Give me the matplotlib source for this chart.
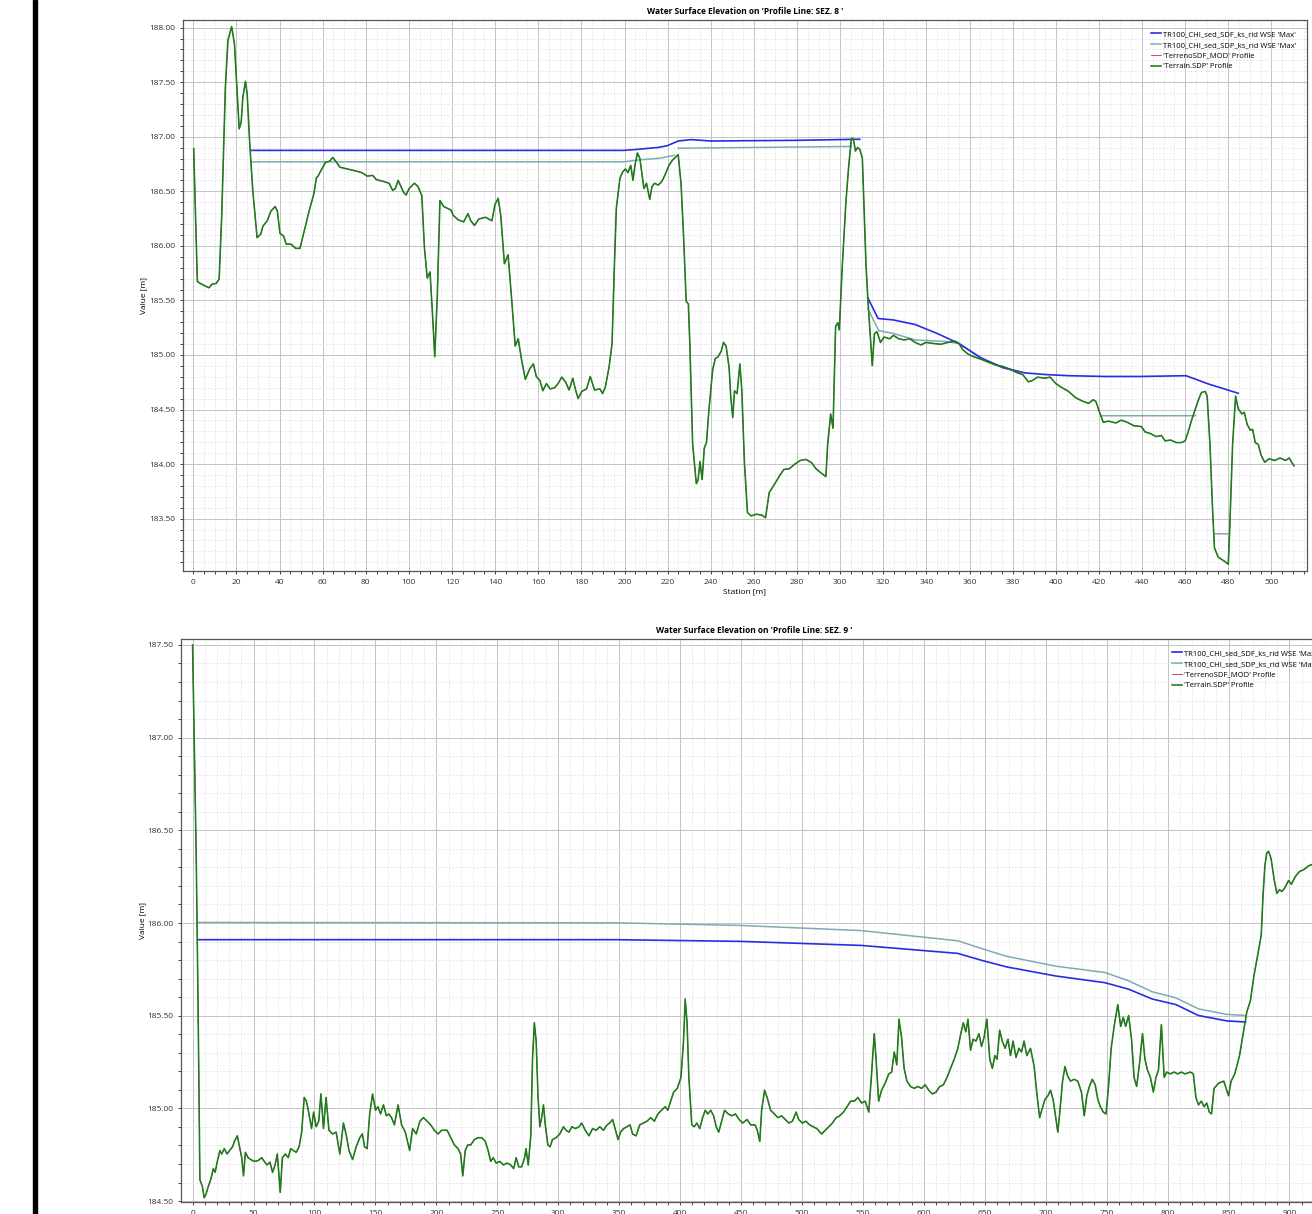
import numpy as np
import matplotlib
matplotlib.use('Agg')
import matplotlib.pyplot as plt
from matplotlib.patches import Rectangle
from matplotlib.ticker import MultipleLocator, FormatStrFormatter

nan = np.nan

# ---- SEZ. 8 ----
st_8 = [0.2, 1.9, 4.8, 7.3, 8.7, 10.7, 12.0, 13.2, 14.9, 16.1, 17.8, 19.1, 20.5, 21.3, 22.2, 23.0,
        24.2, 25.0, 26.2, 27.6, 29.6, 31.3, 32.3, 34.3, 36.0, 38.0, 39.0, 40.2, 41.9, 43.1, 45.3,
        47.5, 49.5, 51.2, 53.7, 55.9, 57.1, 57.9, 59.6, 61.3, 63.3, 64.7, 66.3, 68.0, 71.4, 74.8,
        78.1, 80.7, 83.2, 84.9, 88.3, 90.8, 92.5, 93.7, 95.0, 96.4, 97.5, 98.7, 100.1, 102.6, 104.3,
        106.0, 107.2, 108.5, 109.8, 110.9, 112.0, 113.2, 114.4, 116.1, 117.8, 119.5, 120.6, 122.8,
        125.4, 127.4, 128.7, 130.4, 132.4, 135.5, 138.5, 139.9, 141.4, 142.6, 144.3, 146.0, 147.6,
        149.3, 150.7, 152.3, 154.0, 156.1, 157.7, 159.1, 160.8, 162.1, 163.8, 165.5, 167.5, 169.2,
        170.9, 172.6, 174.3, 176.0, 177.3, 178.5, 180.2, 182.4, 184.1, 186.1, 188.6, 189.8, 191.1,
        192.8, 194.2, 195.3, 196.2, 197.9, 199.2, 200.4, 201.6, 202.9, 203.9, 204.9, 206.0, 207.1,
        208.0, 209.0, 210.2, 211.7, 212.7, 213.9, 215.6, 217.3, 218.9, 220.6, 222.3, 223.5, 224.9,
        226.2, 227.4, 228.6, 229.6, 230.3, 231.6, 233.3, 234.1, 235.0, 236.0, 237.0, 238.0, 239.2,
        240.9, 242.1, 243.4, 244.8, 245.9, 247.1, 248.5, 249.3, 250.2, 251.0, 252.2, 253.5, 254.4,
        255.6, 257.0, 258.7, 261.2, 263.8, 265.4, 267.1, 269.7, 272.2, 273.9, 276.4, 279.0, 281.5,
        284.0, 286.6, 288.8, 291.2, 293.4, 294.2, 295.6, 296.7, 297.9, 298.9, 299.6, 301.0, 302.7,
        304.0, 305.2, 306.1, 307.1, 308.1, 309.1, 310.3, 311.1, 312.0, 312.8, 313.7, 314.9, 315.9,
        317.1, 318.7, 320.4, 323.0, 324.7, 327.2, 329.7, 332.3, 334.8, 337.4, 339.9, 343.3, 346.7,
        350.0, 353.4, 355.1, 356.8, 359.4, 361.9, 365.3, 368.7, 372.1, 375.4, 378.8, 382.2, 384.7,
        387.3, 389.0, 391.5, 394.9, 397.4, 400.0, 402.5, 405.9, 409.3, 412.7, 415.2, 417.4, 418.6,
        420.3, 422.0, 424.5, 427.9, 430.4, 433.0, 436.3, 439.7, 441.4, 444.0, 446.5, 449.0, 450.7,
        453.3, 455.8, 458.3, 460.0, 461.4, 463.1, 464.8, 466.5, 467.6, 469.3, 470.2, 471.5, 472.7,
        473.6, 475.3, 477.0, 478.6, 480.0, 480.7, 482.0, 483.4, 484.6, 486.3, 487.4, 488.8, 490.2,
        491.3, 492.5, 493.9, 495.2, 496.9, 498.9, 501.5, 504.0, 506.6, 508.3, 509.4, 510.5]
terreno_8 = [186.89, 185.672, 185.639, 185.616, 185.649, 185.656, 185.695, 186.279, 187.459, 187.885,
             188.010, 187.852, 187.361, 187.072, 187.131, 187.361, 187.508, 187.393, 186.934, 186.508,
             186.075, 186.108, 186.180, 186.230, 186.318, 186.361, 186.318, 186.115, 186.089, 186.016,
             186.016, 185.977, 185.977, 186.115, 186.318, 186.475, 186.623, 186.639, 186.705, 186.764,
             186.777, 186.810, 186.770, 186.721, 186.705, 186.689, 186.672, 186.639, 186.646, 186.607,
             186.590, 186.574, 186.508, 186.525, 186.600, 186.541, 186.492, 186.466, 186.525, 186.574,
             186.541, 186.459, 185.984, 185.705, 185.761, 185.393, 184.984, 185.557, 186.416, 186.361,
             186.344, 186.328, 186.279, 186.239, 186.220, 186.295, 186.230, 186.187, 186.246, 186.262,
             186.230, 186.377, 186.436, 186.279, 185.836, 185.918, 185.525, 185.082, 185.148, 184.951,
             184.777, 184.875, 184.918, 184.803, 184.764, 184.672, 184.738, 184.689, 184.698, 184.738,
             184.797, 184.754, 184.679, 184.787, 184.679, 184.600, 184.666, 184.689, 184.803, 184.679,
             184.689, 184.646, 184.705, 184.885, 185.098, 185.820, 186.344, 186.623, 186.679, 186.705,
             186.672, 186.738, 186.600, 186.744, 186.852, 186.803, 186.672, 186.525, 186.574, 186.426,
             186.541, 186.574, 186.557, 186.590, 186.656, 186.738, 186.787, 186.810, 186.836, 186.574,
             186.082, 185.492, 185.466, 185.098, 184.180, 183.820, 183.852, 184.023, 183.859, 184.148,
             184.197, 184.508, 184.869, 184.967, 184.984, 185.033, 185.115, 185.082, 184.885, 184.607,
             184.426, 184.672, 184.646, 184.918, 184.672, 184.016, 183.557, 183.525, 183.541, 183.531,
             183.508, 183.738, 183.820, 183.902, 183.951, 183.957, 184.000, 184.033, 184.043, 184.016,
             183.957, 183.918, 183.885, 184.180, 184.459, 184.328, 185.262, 185.295, 185.230, 185.820,
             186.410, 186.738, 186.984, 186.984, 186.869, 186.902, 186.885, 186.803, 186.344, 185.820,
             185.525, 185.262, 184.902, 185.197, 185.213, 185.115, 185.164, 185.148, 185.180, 185.148,
             185.138, 185.148, 185.115, 185.092, 185.115, 185.105, 185.098, 185.115, 185.125, 185.105,
             185.049, 185.007, 184.984, 184.961, 184.934, 184.908, 184.895, 184.869, 184.836, 184.820,
             184.754, 184.764, 184.797, 184.787, 184.797, 184.738, 184.705, 184.666, 184.607, 184.574,
             184.557, 184.590, 184.574, 184.475, 184.384, 184.393, 184.377, 184.403, 184.384, 184.351,
             184.344, 184.295, 184.279, 184.252, 184.262, 184.213, 184.220, 184.197, 184.197, 184.213,
             184.295, 184.410, 184.508, 184.607, 184.656, 184.666, 184.623, 184.180, 183.590, 183.230,
             183.148, 183.125, 183.105, 183.082, 183.426, 184.180, 184.623, 184.508, 184.459, 184.475,
             184.361, 184.311, 184.318, 184.197, 184.180, 184.082, 184.016, 184.049, 184.033, 184.056,
             184.033, 184.056, 184.016, 183.984]

st_sdf_8 = [26.7, 199.6, 206.3, 215.6, 219.8, 224.9, 230.8, 240.0, 279.0, 309.1, nan,
            312.8, 317.6, 324.7, 334.8, 345.0, 355.1, 365.3, 375.4, 385.6, 395.7, 405.9, 422.8,
            439.7, 460.4, 470.2, 484.6]
wse_sdf_8 = [186.875, 186.875, 186.885, 186.902, 186.918, 186.961, 186.974, 186.961, 186.967, 186.977, nan,
             185.525, 185.334, 185.321, 185.279, 185.197, 185.105, 184.974, 184.885, 184.836, 184.820,
             184.810, 184.803, 184.803, 184.810, 184.738, 184.649]

st_sdp_8 = [26.7, 199.6, 206.3, 216.4, 223.1, nan, 224.9, 305.2, nan,
            312.8, 317.9, 324.7, 334.8, 341.6, 348.4, 355.1, 365.3, 375.4, 383.0, nan,
            421.2, 464.8, nan, 473.6, 480.4]
wse_sdp_8 = [186.770, 186.770, 186.787, 186.803, 186.830, nan, 186.895, 186.911, nan,
             185.426, 185.223, 185.197, 185.138, 185.131, 185.125, 185.105, 184.967, 184.882, 184.843, nan,
             184.443, 184.443, nan, 183.361, 183.361]

# ---- SEZ. 9 ----
st_9 = [0.0, 3.0, 4.5, 6.0, 8.1, 9.5, 11.0, 12.8, 14.9, 17.0, 18.5, 20.3, 22.4, 23.9, 26.0, 28.3,
        30.4, 32.8, 34.3, 36.7, 38.8, 40.3, 41.8, 43.3, 45.6, 47.7, 50.7, 53.7, 56.7, 58.8, 61.2,
        63.5, 65.6, 67.7, 69.5, 70.7, 71.9, 73.7, 76.1, 78.5, 80.5, 82.6, 85.0, 87.4, 89.5, 91.6,
        93.4, 95.5, 97.6, 99.3, 101.4, 103.5, 105.3, 107.4, 109.5, 111.9, 114.9, 117.8, 120.8,
        123.8, 126.2, 128.3, 131.3, 134.2, 137.2, 139.3, 141.1, 143.2, 145.3, 147.7, 150.1, 152.1,
        154.2, 156.6, 159.0, 161.1, 163.2, 165.6, 168.6, 171.5, 174.5, 178.1, 180.5, 183.5, 186.5,
        189.4, 192.4, 195.4, 198.4, 201.4, 204.4, 208.8, 211.8, 214.8, 217.8, 219.9, 221.7, 223.7,
        225.8, 228.2, 231.2, 234.2, 237.2, 240.2, 242.5, 244.6, 246.7, 249.1, 252.1, 255.1, 258.1,
        261.0, 263.4, 265.5, 267.6, 270.0, 272.4, 273.6, 275.4, 277.5, 278.9, 280.4, 281.9, 283.4,
        284.9, 286.4, 287.9, 289.4, 291.5, 293.3, 295.3, 298.3, 301.3, 304.3, 306.4, 308.8, 311.2,
        314.1, 317.1, 319.2, 322.2, 325.2, 328.2, 331.1, 334.1, 337.1, 340.1, 342.2, 344.6, 347.0,
        349.1, 351.2, 353.6, 356.5, 358.9, 361.0, 363.9, 366.9, 369.9, 372.9, 375.9, 378.9, 381.8,
        384.8, 387.8, 389.9, 392.3, 394.7, 397.7, 400.7, 402.8, 404.2, 405.7, 407.2, 409.6, 411.6,
        413.7, 416.1, 418.5, 420.6, 422.7, 425.1, 427.5, 429.6, 431.7, 434.1, 436.5, 439.5, 442.4,
        445.4, 448.4, 451.4, 454.9, 457.9, 461.5, 463.3, 465.4, 466.9, 469.3, 471.4, 474.3, 477.3,
        480.3, 483.3, 486.3, 489.3, 492.2, 495.2, 497.3, 500.3, 503.3, 506.2, 509.2, 512.2, 516.1,
        519.1, 522.0, 525.0, 528.0, 531.0, 534.0, 537.0, 539.9, 542.9, 545.9, 548.9, 551.9, 554.8,
        556.9, 559.3, 560.8, 562.9, 565.3, 568.3, 571.2, 573.6, 575.7, 577.8, 579.6, 581.7, 583.8,
        586.1, 589.1, 592.1, 595.1, 598.1, 601.1, 604.0, 607.0, 610.0, 613.0, 616.0, 619.0, 621.9,
        624.9, 627.9, 630.3, 632.4, 634.4, 636.2, 638.3, 640.4, 642.8, 645.2, 647.3, 649.4, 651.7,
        654.1, 656.2, 658.3, 660.1, 662.2, 664.3, 666.7, 669.0, 671.1, 673.2, 675.6, 678.0, 680.1,
        682.2, 684.5, 687.5, 690.5, 692.9, 695.0, 697.1, 699.4, 701.8, 703.9, 706.0, 707.8, 709.9,
        711.4, 713.8, 715.8, 717.9, 720.3, 723.3, 726.3, 729.3, 731.6, 733.7, 735.8, 738.2, 740.6,
        742.7, 744.8, 747.2, 749.5, 751.6, 753.7, 756.1, 759.1, 761.5, 763.6, 765.6, 768.0, 770.4,
        772.5, 774.6, 777.0, 779.4, 781.4, 783.5, 785.9, 788.3, 790.4, 792.5, 794.9, 797.2, 799.3,
        802.3, 805.3, 808.3, 811.3, 814.2, 818.7, 821.1, 823.2, 825.3, 827.6, 830.0, 832.1, 834.2,
        836.0, 838.1, 842.0, 846.1, 850.0, 852.1, 855.1, 859.0, 862.0, 865.0, 867.9, 870.9, 873.9,
        876.8, 878.3, 879.8, 881.3, 882.8, 884.9, 887.3, 889.6, 891.8, 893.8, 896.2, 899.2, 901.6,
        904.6, 908.2, 911.7, 915.6, 920.0]
terreno_9 = [187.500, 186.350, 185.560, 184.616, 184.577, 184.518, 184.537, 184.577, 184.616, 184.675,
             184.655, 184.714, 184.773, 184.754, 184.783, 184.754, 184.773, 184.793, 184.822, 184.852,
             184.783, 184.734, 184.636, 184.763, 184.734, 184.724, 184.714, 184.718, 184.734, 184.714,
             184.695, 184.710, 184.655, 184.695, 184.754, 184.655, 184.547, 184.734, 184.754, 184.734,
             184.783, 184.773, 184.763, 184.793, 184.872, 185.059, 185.039, 184.970, 184.891, 184.980,
             184.901, 184.931, 185.078, 184.891, 185.059, 184.882, 184.862, 184.872, 184.754, 184.921,
             184.852, 184.773, 184.724, 184.793, 184.842, 184.862, 184.793, 184.783, 184.970, 185.078,
             184.990, 185.009, 184.970, 185.019, 184.960, 184.970, 184.950, 184.911, 185.019, 184.911,
             184.872, 184.773, 184.891, 184.862, 184.931, 184.950, 184.931, 184.911, 184.882, 184.862,
             184.882, 184.882, 184.842, 184.803, 184.783, 184.754, 184.636, 184.773, 184.803, 184.803,
             184.832, 184.842, 184.842, 184.822, 184.773, 184.714, 184.734, 184.705, 184.714, 184.695,
             184.705, 184.695, 184.675, 184.734, 184.685, 184.685, 184.734, 184.783, 184.695, 184.852,
             185.265, 185.462, 185.363, 185.068, 184.901, 184.950, 185.019, 184.911, 184.803, 184.793,
             184.832, 184.842, 184.862, 184.901, 184.882, 184.872, 184.901, 184.891, 184.901, 184.921,
             184.882, 184.852, 184.891, 184.882, 184.901, 184.882, 184.911, 184.921, 184.940, 184.882,
             184.832, 184.872, 184.891, 184.901, 184.911, 184.862, 184.852, 184.911, 184.921, 184.931,
             184.950, 184.931, 184.970, 184.990, 185.009, 184.990, 185.039, 185.088, 185.108, 185.167,
             185.363, 185.590, 185.462, 185.167, 184.911, 184.901, 184.921, 184.891, 184.950, 184.990,
             184.970, 184.990, 184.960, 184.901, 184.872, 184.931, 184.990, 184.970, 184.960, 184.970,
             184.940, 184.921, 184.940, 184.911, 184.911, 184.882, 184.822, 184.990, 185.098, 185.059,
             184.990, 184.970, 184.950, 184.960, 184.940, 184.921, 184.931, 184.980, 184.940, 184.921,
             184.931, 184.911, 184.901, 184.891, 184.862, 184.882, 184.901, 184.921, 184.950, 184.960,
             184.980, 185.009, 185.039, 185.039, 185.059, 185.029, 185.039, 184.980, 185.167, 185.403,
             185.265, 185.039, 185.098, 185.137, 185.186, 185.196, 185.304, 185.235, 185.481, 185.383,
             185.216, 185.147, 185.118, 185.108, 185.118, 185.108, 185.127, 185.098, 185.078, 185.088,
             185.118, 185.127, 185.167, 185.216, 185.265, 185.324, 185.403, 185.462, 185.413, 185.481,
             185.314, 185.373, 185.363, 185.403, 185.334, 185.383, 185.481, 185.265, 185.216, 185.285,
             185.265, 185.422, 185.363, 185.324, 185.373, 185.285, 185.363, 185.275, 185.324, 185.304,
             185.363, 185.285, 185.324, 185.226, 185.068, 184.950, 184.999, 185.049, 185.068, 185.098,
             185.049, 184.970, 184.872, 184.970, 185.147, 185.226, 185.176, 185.147, 185.157, 185.147,
             185.088, 184.960, 185.068, 185.118, 185.157, 185.127, 185.049, 185.009, 184.980, 184.970,
             185.127, 185.324, 185.442, 185.560, 185.442, 185.491, 185.442, 185.501, 185.373, 185.167,
             185.118, 185.245, 185.403, 185.265, 185.206, 185.167, 185.088, 185.167, 185.206, 185.452,
             185.167, 185.196, 185.186, 185.196, 185.186, 185.196, 185.186, 185.196, 185.186, 185.059,
             185.019, 185.039, 185.009, 185.029, 184.980, 184.970, 185.108, 185.137, 185.147, 185.068,
             185.147, 185.186, 185.285, 185.403, 185.521, 185.580, 185.718, 185.826, 185.934, 186.150,
             186.308, 186.377, 186.387, 186.347, 186.239, 186.160, 186.180, 186.170, 186.190, 186.229,
             186.209, 186.249, 186.278, 186.288, 186.308, 186.320]

st_sdf_9 = [4.5, 347.6, 449.0, 548.9, 627.9, 648.8, 668.1, 708.4, 748.6, 768.0, 787.4, 806.8,
            825.3, 848.5, 864.0]
wse_sdf_9 = [185.910, 185.910, 185.901, 185.879, 185.836, 185.796, 185.763, 185.714, 185.678,
             185.643, 185.590, 185.560, 185.501, 185.472, 185.466]

st_sdp_9 = [4.5, 347.6, 449.0, 548.9, 627.9, 648.8, 668.1, 708.4, 748.6, 768.0, 787.4, 806.8,
            825.3, 848.5, 864.0]
wse_sdp_9 = [186.003, 186.001, 185.987, 185.959, 185.904, 185.859, 185.820, 185.767, 185.733,
             185.688, 185.629, 185.596, 185.537, 185.507, 185.501]

labels = ["TR100_CHI_sed_SDF_ks_rid WSE 'Max'", "TR100_CHI_sed_SDP_ks_rid WSE 'Max'",
          "'TerrenoSDF_MOD' Profile", "'Terrain.SDP' Profile"]

plt.rcParams['font.family'] = ['Open Sans', 'DejaVu Sans']
c_sdf = '#2b2be6'
c_sdp = '#7eabb3'
c_mod = '#c0392b'
c_ter = '#1e7b1e'


def pannello(ax, st, ter, st1, w1, st2, w2, sez, xlim, ylim, xstep, xminor):
    ax.plot(st1, w1, color=c_sdf, lw=1.2, label=labels[0], zorder=4)
    ax.plot(st2, w2, color=c_sdp, lw=1.1, label=labels[1], zorder=3)
    # il profilo MOD coincide con il terreno, resta sotto la linea verde
    ax.plot(st, ter, color=c_mod, lw=0.6, label=labels[2], zorder=2)
    ax.plot(st, ter, color=c_ter, lw=1.15, label=labels[3], zorder=5)
    ax.set_xlim(*xlim)
    ax.set_ylim(*ylim)
    ax.xaxis.set_major_locator(MultipleLocator(xstep))
    ax.xaxis.set_minor_locator(MultipleLocator(xminor))
    ax.yaxis.set_major_locator(MultipleLocator(0.5))
    ax.yaxis.set_minor_locator(MultipleLocator(0.1))
    ax.yaxis.set_major_formatter(FormatStrFormatter('%.2f'))
    ax.grid(which='major', color='#c4c4c4', lw=0.7, ls='-')
    ax.grid(which='minor', color='#e0e0e0', lw=0.5, ls=(0, (3, 2)))
    ax.set_axisbelow(True)
    ax.tick_params(which='both', direction='out', length=2.5, width=0.7, colors='#444444',
                   labelsize=6, labelcolor='#333333', pad=3)
    for s in ax.spines.values():
        s.set_color('#555555')
        s.set_linewidth(0.9)
    ax.set_title(f"Water Surface Elevation on 'Profile Line: SEZ. {sez} '", fontsize=6,
                 fontweight='bold', pad=4)
    ax.set_ylabel('Value [m]', fontsize=6, labelpad=1)
    ax.legend(loc='upper right', frameon=False, fontsize=5.5, handlelength=1.3,
              handletextpad=0.3, labelspacing=0.45, borderaxespad=1.0)


fig = plt.figure(figsize=(13.12, 12.14), dpi=100)

ax1 = fig.add_axes([0.13925, 0.52965, 0.85693, 0.45387])
pannello(ax1, st_8, terreno_8, st_sdf_8, wse_sdf_8, st_sdp_8, wse_sdp_8, 8,
         (-4.9, 516.5), (183.02, 188.07), 20, 5)
ax1.set_xlabel('Station [m]', fontsize=6, labelpad=2)

ax2 = fig.add_axes([0.13796, 0.00988, 0.87424, 0.46376])
pannello(ax2, st_9, terreno_9, st_sdf_9, wse_sdf_9, st_sdp_9, wse_sdp_9, 9,
         (-9.5, 931.6), (184.495, 187.532), 50, 10)

# barra nera a sinistra dello screenshot
fig.add_artist(Rectangle((33 / 1312, 0), 4 / 1312, 1, transform=fig.transFigure,
                         color='black', zorder=10))

fig.savefig('out.png', dpi=100)
plt.close()
